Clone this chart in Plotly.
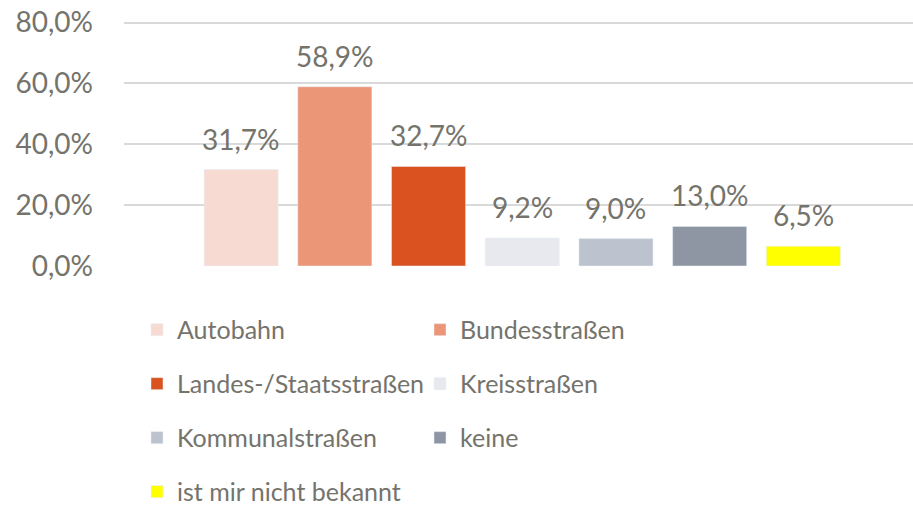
import plotly.graph_objects as go

# Straßenart -> Anteil
categories = ["Autobahn", "Bundesstraßen", "Landes-/Staatsstraßen", "Kreisstraßen",
              "Kommunalstraßen", "keine", "ist mir nicht bekannt"]
values = [0.317, 0.589, 0.327, 0.092, 0.090, 0.130, 0.065]
colors = ["#F7DBD3", "#EA9677", "#D9521F", "#E8E9EE", "#BCC3CE", "#8F96A3", "#FFFF00"]

y_ticks = [0, 0.2, 0.4, 0.6, 0.8]

TEXT_COLOR = "#74736C"
FONT = "Lato"

fig = go.Figure()
for i, (cat, val, col) in enumerate(zip(categories, values, colors)):
    fig.add_trace(go.Bar(
        x=[cat], y=[val], name=cat,
        marker_color=col,
        legend="legend" if i % 2 == 0 else "legend2",
        legendgroup=cat,
        hovertemplate=f"{cat}: %{{y:.1%}}<extra></extra>",
    ))
    fig.add_annotation(
        x=cat, y=val, text=f"{val * 100:.1f}%".replace(".", ","),
        showarrow=False, yanchor="bottom", yshift=12,
        font=dict(family=FONT, size=28, color=TEXT_COLOR),
    )

legend_style = dict(
    orientation="v", yanchor="top", xanchor="left", y=-0.167,
    font=dict(family=FONT, size=25, color=TEXT_COLOR),
    tracegroupgap=18.5, bgcolor="rgba(0,0,0,0)",
)

fig.update_layout(
    width=913, height=509,
    margin=dict(l=124, r=0, t=21, b=243, autoexpand=False),
    plot_bgcolor="white", paper_bgcolor="white",
    separators=",.",
    barmode="overlay", bargap=0.21,
    showlegend=True,
    legend=dict(x=13 / 789, **legend_style),
    legend2=dict(x=296 / 789, **legend_style),
    font=dict(family=FONT, color=TEXT_COLOR),
)
fig.update_xaxes(showticklabels=False, showgrid=False, zeroline=False,
                 range=[-1.25, 7.17], fixedrange=True)
fig.update_yaxes(range=[0, 0.805], tickvals=y_ticks, tickformat=".1%",
                 gridcolor="#D9D9D9", gridwidth=2, zeroline=False,
                 tickfont=dict(family=FONT, size=28, color=TEXT_COLOR),
                 ticklabelstandoff=30, ticklabeloverflow="allow")

# drop the default page margin so the figure fills the window exactly
fig.write_html("out.html", config={"displayModeBar": False},
               post_script="document.body.style.margin = '0';")
